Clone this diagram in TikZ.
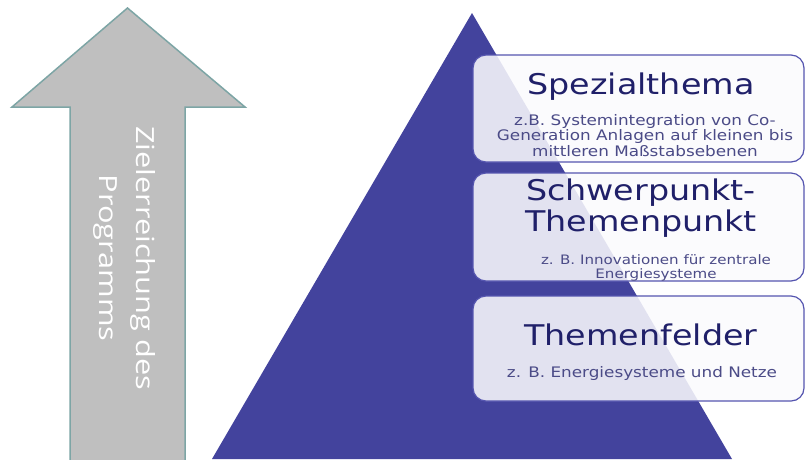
\documentclass[tikz,border=0pt]{standalone}
\usepackage{fontspec}
\newfontfamily\titlefont[FakeStretch=1.17]{DejaVu Sans}
\newfontfamily\notefont[FakeStretch=1.16]{DejaVu Sans}
\newfontfamily\goalfont[FakeStretch=1.23]{Open Sans}
\definecolor{pyramid}{RGB}{67,67,157}
\definecolor{arrowgray}{RGB}{191,191,191}
\definecolor{arrowrim}{RGB}{125,165,165}
\definecolor{boxfill}{RGB}{250,250,253}
\definecolor{boxrim}{RGB}{85,85,175}
\definecolor{headblue}{RGB}{32,32,105}
\definecolor{noteblue}{RGB}{75,75,135}

\begin{document}
\begin{tikzpicture}[x=1pt, y=-1pt,
	goalarrow/.style={fill=arrowgray, draw=arrowrim, line width=1.5pt},
	themebox/.style={draw=boxrim, line width=1.2pt, fill=boxfill, fill opacity=0.87,
		rounded corners=13pt, minimum width=331pt, inner sep=0pt},
	headline/.style={text=headblue, font=\titlefont\fontsize{28.5}{31}\selectfont,
		align=center, anchor=base, inner sep=0pt},
	example/.style={text=noteblue, font=\notefont\fontsize{14.5}{14}\selectfont,
		align=center, anchor=base, inner sep=0pt}]

	\useasboundingbox (0, 0) rectangle (805, 459);

	% arrow on the left
	\draw[goalarrow] (70, 462) -- (70, 107) -- (12, 107) -- (127.5, 8)
		-- (245, 107) -- (185, 107) -- (185, 462) -- cycle;
	\node[rotate=-90, text=white, align=center, inner sep=0pt,
		font=\goalfont\fontsize{25}{37}\selectfont] (goal) at (124, 258)
		{Zielerreichung des\\Programms};

	% pyramid
	\fill[pyramid] (212, 459) -- (472, 13) -- (732, 459) -- cycle;

	% boxes
	\node[themebox, minimum height=107pt] (special) at (638.5, 108.5) {};
	\node[themebox, minimum height=108pt] (focus) at (638.5, 227) {};
	\node[themebox, minimum height=105pt] (fields) at (638.5, 348.5) {};

	% texts (base = last line)
	\node[headline] (specialhead) at (641, 94) {Spezialthema};
	\node[example] (specialnote) at (645, 156)
		{z.B. Systemintegration von Co-\\Generation Anlagen auf kleinen bis\\mittleren Maßstabsebenen};

	\node[headline] (focushead) at (641, 231) {Schwerpunkt-\\Themenpunkt};
	\node[example, font=\notefont\fontsize{13}{14}\selectfont] (focusnote) at (656, 278)
		{z. B. Innovationen für zentrale\\Energiesysteme};

	\node[headline] (fieldshead) at (641, 345) {Themenfelder};
	\node[example] (fieldsnote) at (642, 377) {z. B. Energiesysteme und Netze};
\end{tikzpicture}
\end{document}
